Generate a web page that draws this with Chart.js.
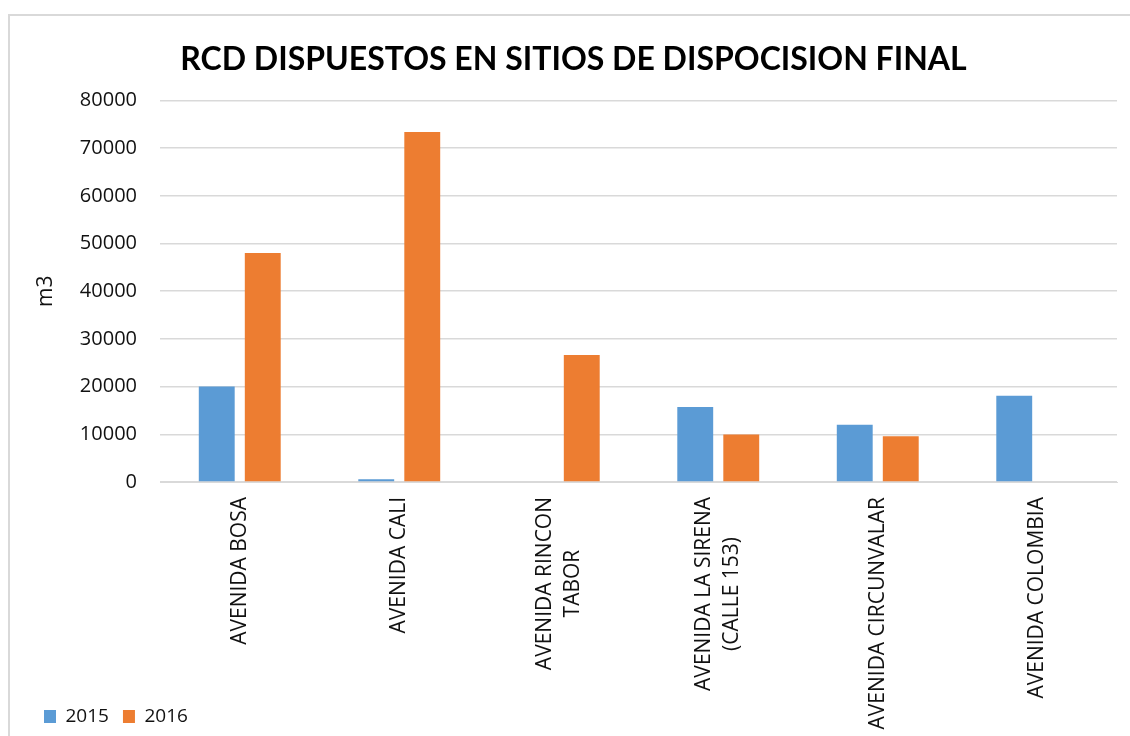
<!DOCTYPE html>
<html>
<head>
<meta charset="utf-8">
<script src="https://cdn.jsdelivr.net/npm/chart.js@4/dist/chart.umd.min.js"></script>
<style>
html,body{margin:0;padding:0;background:#fff;overflow:hidden}
#wrap{position:absolute;left:0;top:0;width:1130px;height:736px}
</style>
</head>
<body>
<div id="wrap"><canvas id="c" width="1130" height="736"></canvas></div>
<script>
// ---- data ----
const categories = [
  ["AVENIDA BOSA"],
  ["AVENIDA CALI"],
  ["AVENIDA RINCON", "TABOR"],
  ["AVENIDA LA SIRENA", "(CALLE 153)"],
  ["AVENIDA CIRCUNVALAR"],
  ["AVENIDA COLOMBIA"]
];
const seriesNames = ["2015", "2016"];
const values2015 = [20000, 600, 0, 15700, 12000, 18100];
const values2016 = [48000, 73400, 26600, 9950, 9600, 0];
const yMin = 0, yMax = 80000, yStep = 10000;
const chartTitle = "RCD DISPUESTOS EN SITIOS DE DISPOCISION FINAL";
const yTitle = "m3";

const TITLE_FONT = "Lato, 'Open Sans', sans-serif";
const FONT = "'Open Sans', sans-serif";
const TEXT = "#111";
const GRID = "#d9d9d9";

const framePlugin = {
  id: "frame",
  beforeDraw(chart) {
    const ctx = chart.ctx;
    ctx.save();
    ctx.fillStyle = "#fff";
    ctx.fillRect(0, 0, chart.width, chart.height);
    ctx.strokeStyle = GRID;
    ctx.lineWidth = 2;
    ctx.strokeRect(9, 15, chart.width + 20, chart.height + 40);
    ctx.restore();
  }
};

const xLabelPlugin = {
  id: "xlabels",
  afterDraw(chart) {
    const ctx = chart.ctx;
    const xs = chart.scales.x;
    const top = chart.chartArea.bottom + 15;
    const pitch = 28;
    ctx.save();
    ctx.font = "21px " + FONT;
    ctx.fillStyle = TEXT;
    ctx.textAlign = "center";
    ctx.textBaseline = "middle";
    categories.forEach((lines, i) => {
      const x = xs.getPixelForTick(i);
      const w = Math.max(...lines.map(l => ctx.measureText(l).width));
      ctx.save();
      ctx.translate(x, top);
      ctx.rotate(-Math.PI / 2);
      lines.forEach((l, j) => {
        const off = (j - (lines.length - 1) / 2) * pitch;
        ctx.fillText(l, -w / 2, off);
      });
      ctx.restore();
    });
    ctx.restore();
  }
};

new Chart(document.getElementById("c"), {
  type: "bar",
  data: {
    labels: categories.map(c => c.join(" ")),
    datasets: [
      { label: seriesNames[0], data: values2015, backgroundColor: "#5B9BD5", borderWidth: 0 },
      { label: seriesNames[1], data: values2016, backgroundColor: "#ED7D31", borderWidth: 0 }
    ]
  },
  options: {
    responsive: false,
    animation: false,
    devicePixelRatio: 1,
    datasets: { bar: { barPercentage: 0.78, categoryPercentage: 0.577 } },
    layout: { padding: { left: 30, right: 13, top: 40, bottom: 0 } },
    plugins: {
      title: {
        display: true,
        text: chartTitle,
        color: "#000",
        font: { family: TITLE_FONT, size: 32, weight: "bold" },
        padding: { top: 0, bottom: 22 }
      },
      legend: {
        position: "bottom",
        align: "start",
        labels: {
          boxWidth: 12,
          boxHeight: 13,
          padding: 14,
          color: TEXT,
          font: { family: FONT, size: 19 }
        }
      },
      tooltip: { enabled: false }
    },
    scales: {
      x: {
        grid: { display: false },
        border: { display: true, color: GRID, width: 1 },
        ticks: { display: false },
        afterFit(scale) { scale.height = 211; }
      },
      y: {
        min: yMin,
        max: yMax,
        ticks: {
          stepSize: yStep, padding: 23, color: TEXT,
          font: { family: FONT, size: 20 },
          callback: v => String(v)
        },
        grid: { color: GRID, lineWidth: 1.5, drawTicks: false },
        border: { display: false },
        title: {
          display: true,
          text: yTitle,
          color: TEXT,
          font: { family: FONT, size: 21 },
          padding: { top: 3, bottom: 0 }
        },
        afterFit(scale) { scale.width = 130; }
      }
    }
  },
  plugins: [framePlugin, xLabelPlugin]
});
</script>
</body>
</html>
